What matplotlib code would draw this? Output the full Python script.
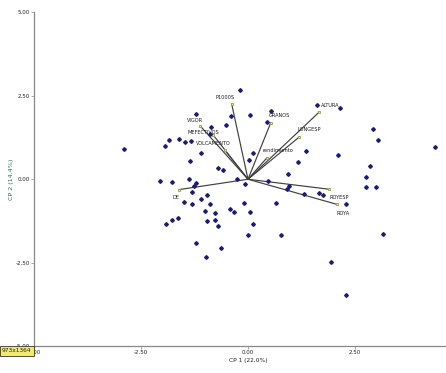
import matplotlib
matplotlib.use("Agg")
import matplotlib.pyplot as plt

plt.rcParams['font.family'] = ['Liberation Sans Narrow', 'DejaVu Sans']

# Observation scores (CP1, CP2)
obs_x = [-0.19, -1.21, -0.39, 0.04, 0.54, 0.45, 1.61, 2.14, -0.51, -0.87,
         -0.88, -2.89, -1.95, -1.84, -1.61, -1.47, -1.34, -1.09, -1.36, -0.70,
         -0.59, 0.03, 0.11, 1.36, 1.17, 2.11, 0.93, 2.92, 3.03, 4.36,
         2.85, 2.76, 2.76, 2.99, -2.06, -1.77, -1.38, -1.22, -1.26, -0.25,
         -0.08, 0.47, 0.96, 0.90, 1.31, 1.66, 1.75, 2.28, -1.32, -0.96,
         -1.09, -1.49, -1.30, -0.89, -0.10, 0.65, -1.01, -0.78, -0.43, -0.33,
         0.04, -1.64, -1.77, -0.96, -0.78, -1.91, -0.71, 0.12, -0.01, 0.76,
         3.15, -1.22, -0.62, -0.97, 1.94, 2.30]
obs_y = [2.67, 1.97, 1.89, 1.92, 2.05, 1.73, 2.22, 2.15, 1.64, 1.56,
         1.37, 0.90, 1.00, 1.17, 1.20, 1.13, 1.16, 0.79, 0.56, 0.35,
         0.29, 0.57, 0.79, 0.84, 0.53, 0.72, 0.17, 1.52, 1.17, 0.96,
         0.39, 0.06, -0.24, -0.22, -0.04, -0.08, 0.02, -0.10, -0.20, 0.01,
         -0.13, -0.04, -0.21, -0.28, -0.45, -0.40, -0.48, -0.74, -0.39, -0.47,
         -0.60, -0.67, -0.74, -0.74, -0.72, -0.72, -0.94, -1.02, -0.90, -0.98,
         -0.98, -1.17, -1.22, -1.24, -1.22, -1.35, -1.39, -1.33, -1.66, -1.66,
         -1.64, -1.90, -2.05, -2.33, -2.49, -3.47]

# Variable vectors
var_names = ['P1000S', 'GRANOS', 'ALTURA', 'LONGESP', 'rendimiento', 'VIGOR',
             'MEFECTIVOS', 'VOLCAMENTO', 'DE', 'ROYESP', 'ROYA']
var_x = [-0.38, 0.53, 1.66, 1.20, 0.44, -1.11, -0.81, -0.54, -1.61, 1.90, 2.07]
var_y = [2.25, 1.69, 2.01, 1.27, 0.64, 1.59, 1.32, 0.87, -0.31, -0.30, -0.75]
label_offsets = [(-5, 5), (6, 5), (8, 5), (7, 5), (8, 5), (-4, 4),
                 (-7, 2), (-8, 5), (-2, -6), (7, -6), (5, -7)]

x_ticks = [-5.0, -2.5, 0.0, 2.5]
y_ticks = [-5.0, -2.5, 0.0, 2.5, 5.0]

fig = plt.figure(figsize=(4.46, 3.73), dpi=100)
ax = fig.add_axes([34/446, 27/373, 428/446, 333.5/373])
ax.set_xlim(-5, 5)
ax.set_ylim(-5, 5)

for vx, vy in zip(var_x, var_y):
    ax.plot([0, vx], [0, vy], color='#404040', lw=0.85, zorder=2)
ax.plot(var_x, var_y, linestyle='none', marker='s', ms=2.0,
        mfc='#f4f0b0', mec='#9a9a40', mew=0.6, zorder=3)
for name, vx, vy, (dx, dy) in zip(var_names, var_x, var_y, label_offsets):
    ax.annotate(name, (vx, vy), xytext=(dx, dy), textcoords='offset points',
                ha='center', va='center', fontsize=3.6, color='#1a1a1a', zorder=4)

ax.plot(obs_x, obs_y, linestyle='none', marker='D', ms=1.9,
        color='#1c1c78', zorder=5)

for s in ['top', 'right']:
    ax.spines[s].set_visible(False)
for s in ['left', 'bottom']:
    ax.spines[s].set_color('#888888')
    ax.spines[s].set_linewidth(0.9)

ax.set_xticks(x_ticks)
ax.set_xticklabels([f"{t:.2f}" for t in x_ticks])
ax.set_yticks(y_ticks)
ax.set_yticklabels([f"{t:.2f}" for t in y_ticks])
ax.tick_params(labelsize=4, length=2, width=0.5, colors='#888888',
               labelcolor='#222222', pad=1)
ax.set_xlabel('CP 1 (22,0%)', fontsize=4.2, labelpad=2, color='#222222')
ax.set_ylabel('CP 2 (14,4%)', fontsize=4.6, labelpad=1, color='#2e7060')

fig.text(2/446, 1 - 351/373, '973x1364', fontsize=4.2, va='center', ha='left',
         color='#222222',
         bbox=dict(boxstyle='square,pad=0.35', fc='#f2ea70', ec='#333333', lw=0.6))

fig.savefig('out.png', dpi=100)
